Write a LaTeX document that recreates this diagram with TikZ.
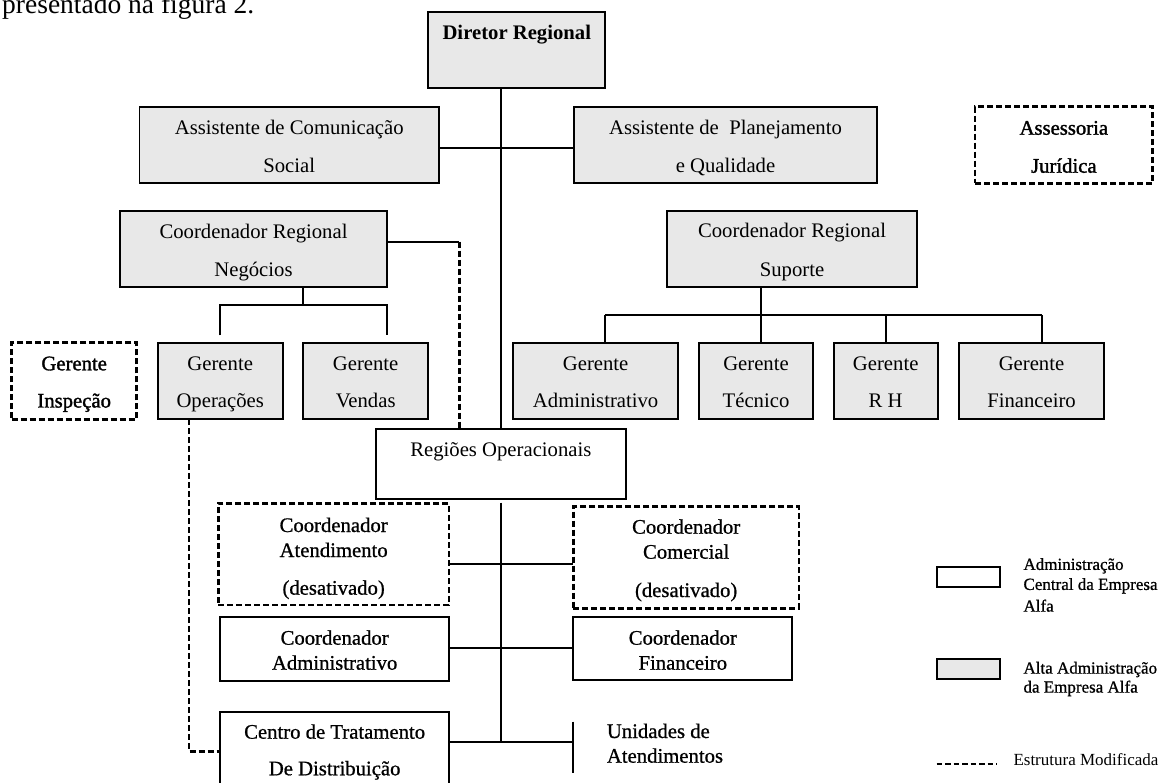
\documentclass[tikz,border=0pt]{standalone}
\usepackage{fontspec}
\setmainfont{Liberation Serif}
\newfontfamily\fbA[FakeBold=1.5]{Liberation Serif}
\newfontfamily\fbB[FakeBold=0.8]{Liberation Serif}
\definecolor{boxgray}{RGB}{232,232,232}
\begin{document}
\begin{tikzpicture}[x=1pt,y=-1pt,
  box/.style={draw=black, line width=1.9pt, inner sep=0pt, outer sep=0pt, rectangle},
  gbox/.style={box, fill=boxgray},
  wbox/.style={box, fill=white},
  dbox/.style={draw=black, line width=2.5pt, dash pattern=on 6pt off 3pt, fill=white, inner sep=0pt, outer sep=0pt, rectangle},
  conn/.style={line width=1.9pt},
  dconn/.style={line width=2.5pt, dash pattern=on 6pt off 3pt},
  t/.style={font=\fontsize{20.7}{24}\selectfont, inner sep=0pt, anchor=base},
  tb/.style={t, font=\fontsize{20.7}{24}\selectfont\bfseries},
  ta/.style={t, font=\fontsize{20.7}{24}\selectfont\fbA},
  tl/.style={t, font=\fontsize{20.7}{24}\selectfont\fbB},
  tlw/.style={tl, anchor=base west},
  lg/.style={font=\fontsize{17}{20}\selectfont\fbB, inner sep=0pt, anchor=base west},
  lgn/.style={font=\fontsize{17}{20}\selectfont, inner sep=0pt, anchor=base west}
]
\useasboundingbox (0,0) rectangle (1162,783);
\fill[white] (0,0) rectangle (1162,783);
\clip (0,0) rectangle (1162,783);

% top text fragment
\node[font=\fontsize{27.5}{32}\selectfont, inner sep=0pt, anchor=base west] (pre) at (2,13.3) {presentado na figura 2.};

% boxes
\node[gbox, minimum width=177pt, minimum height=76.6pt] (dir) at (516.8,50) {};
\node[gbox, minimum width=299.5pt, minimum height=76.6pt] (com) at (289.25,145) {};
\node[gbox, minimum width=303.6pt, minimum height=76.6pt] (pla) at (725.5,145) {};
\node[dbox, minimum width=177.7pt, minimum height=76.6pt] (ass) at (1063.85,145) {};
\node[gbox, minimum width=267pt, minimum height=76.3pt] (neg) at (253.5,249.15) {};
\node[gbox, minimum width=249.4pt, minimum height=76.3pt] (sup) at (792,249.15) {};
\node[dbox, minimum width=125pt, minimum height=76.6pt] (ins) at (74.2,381) {};
\node[gbox, minimum width=125pt, minimum height=76.6pt] (ope) at (220.2,381) {};
\node[gbox, minimum width=125.3pt, minimum height=76.6pt] (ven) at (365.65,381) {};
\node[gbox, minimum width=164.7pt, minimum height=76.6pt] (adm) at (595.65,381) {};
\node[gbox, minimum width=114.6pt, minimum height=76.6pt] (tec) at (756,381) {};
\node[gbox, minimum width=104pt, minimum height=76.6pt] (rh) at (885.7,381) {};
\node[gbox, minimum width=145.6pt, minimum height=76.6pt] (fin) at (1031.5,381) {};
\node[wbox, minimum width=249.7pt, minimum height=70pt] (reg) at (500.85,463.7) {};
\node[dbox, minimum width=230.7pt, minimum height=101.7pt] (ate) at (333.65,554.15) {};
\node[dbox, minimum width=225.7pt, minimum height=101.6pt] (come) at (686.15,557.5) {};
\node[wbox, minimum width=229.3pt, minimum height=63.7pt] (cad) at (334.65,649.15) {};
\node[wbox, minimum width=219pt, minimum height=62.7pt] (cfi) at (682.8,648.65) {};
\node[wbox, minimum width=229.3pt, minimum height=83.3pt] (ctd) at (334.65,753.35) {};

% connector junctions
\coordinate (cj) at (501,148.3);
\coordinate (nj) at (459.3,241.7);
\coordinate (nd) at (303.3,305);
\coordinate (nbL) at (220.2,305);
\coordinate (nbR) at (386.7,305);
\coordinate (nbLe) at (220.2,335.3);
\coordinate (nbRe) at (386.7,335.3);
\coordinate (sb) at (760.7,315.3);
\coordinate (sbL) at (605.3,315.3);
\coordinate (sbR) at (1041.7,315.3);
\coordinate (rt) at (501,502.7);
\coordinate (rb) at (501,741.7);
\coordinate (h1) at (501,564.3);
\coordinate (h2) at (501,648.3);
\coordinate (ubT) at (573.3,721.7);
\coordinate (ubB) at (573.3,773.3);
\coordinate (oc) at (189,751.7);

% connectors
\draw[conn] (dir.south -| reg.north) -- (reg.north);
\draw[conn] (com.east |- cj) -- (pla.west |- cj);
\draw[conn] (neg.east |- nj) -- (nj);
\draw[dconn] (nj) -- (nj |- reg.north);
\draw[conn] (neg.south -| nd) -- (nd);
\draw[conn] (nbLe) -- (nbL) -- (nbR) -- (nbRe);
\draw[conn] (sup.south -| sb) -- (tec.north -| sb);
\draw[conn] (sbL) -- (sbR);
\draw[conn] (sbL) -- (adm.north -| sbL);
\draw[conn] (rh.north |- sbL) -- (rh.north);
\draw[conn] (sbR) -- (fin.north -| sbR);
\draw[conn] (rt) -- (rb);
\draw[conn] (ate.east |- h1) -- (come.west |- h1);
\draw[conn] (cad.east |- h2) -- (cfi.west |- h2);
\draw[conn] (ctd.east |- rb) -- (ubT |- rb);
\draw[conn] (ubT) -- (ubB);
\draw[dconn] (ope.south -| oc) -- (oc) -- (ctd.west |- oc);

% texts
\node[tb] (dirT) at (516.8,39.3) {Diretor Regional};
\node[t] (comT1) at (289.25,134.7) {Assistente de Comunicação};
\node[t] (comT2) at (289.25,172.5) {Social};
\node[t] (plaT1) at (725.5,134.7) {Assistente de~ Planejamento};
\node[t] (plaT2) at (725.5,172.5) {e Qualidade};
\node[ta] (assT1) at (1063.85,134.7) {Assessoria};
\node[ta] (assT2) at (1063.85,172.7) {Jurídica};
\node[t] (negT1) at (253.5,238.7) {Coordenador Regional};
\node[t] (negT2) at (253.5,276.3) {Negócios};
\node[t] (supT1) at (792,238) {Coordenador Regional};
\node[t] (supT2) at (792,276.3) {Suporte};
\node[ta] (insT1) at (74.2,370.3) {Gerente};
\node[ta] (insT2) at (74.2,407.5) {Inspeção};
\node[t] (opeT1) at (220.2,370.3) {Gerente};
\node[t] (opeT2) at (220.2,407.5) {Operações};
\node[t] (venT1) at (365.65,370.3) {Gerente};
\node[t] (venT2) at (365.65,407.5) {Vendas};
\node[t] (admT1) at (595.65,370.3) {Gerente};
\node[t] (admT2) at (595.65,407.5) {Administrativo};
\node[t] (tecT1) at (756,370.3) {Gerente};
\node[t] (tecT2) at (756,407.5) {Técnico};
\node[t] (rhT1) at (885.7,370.3) {Gerente};
\node[t] (rhT2) at (885.7,407.5) {R H};
\node[t] (finT1) at (1031.5,370.3) {Gerente};
\node[t] (finT2) at (1031.5,407.5) {Financeiro};
\node[t] (regT) at (500.85,456.3) {Regiões Operacionais};
\node[tl] (ateT1) at (333.65,532) {Coordenador};
\node[tl] (ateT2) at (333.65,557) {Atendimento};
\node[tl] (ateT3) at (333.65,594.7) {(desativado)};
\node[tl] (comeT1) at (686.15,533.7) {Coordenador};
\node[tl] (comeT2) at (686.15,558.7) {Comercial};
\node[tl] (comeT3) at (686.15,597) {(desativado)};
\node[tl] (cadT1) at (334.65,644.7) {Coordenador};
\node[tl] (cadT2) at (334.65,669.7) {Administrativo};
\node[tl] (cfiT1) at (682.8,644.7) {Coordenador};
\node[tl] (cfiT2) at (682.8,669.7) {Financeiro};
\node[tl] (ctdT1) at (334.65,738.7) {Centro de Tratamento};
\node[tl] (ctdT2) at (334.65,775.3) {De Distribuição};
\node[tlw] (uniT1) at (606.7,738) {Unidades de};
\node[tlw] (uniT2) at (606.7,762.7) {Atendimentos};

% legend
\node[box, fill=white, minimum width=63.3pt, minimum height=20.6pt] (lgW) at (968.35,577) {};
\node[gbox, minimum width=63.3pt, minimum height=20.3pt] (lgG) at (968.35,669.15) {};
\coordinate (lgDa) at (936.7,764);
\coordinate (lgDb) at (996.7,764);
\draw[line width=2.6pt, dash pattern=on 5.5pt off 3pt] (lgDa) -- (lgDb);
\node[lg] (lgW1) at (1023.3,569.9) {Administração};
\node[lg] (lgW2) at (1023.3,589.9) {Central da Empresa};
\node[lg] (lgW3) at (1023.3,611.6) {Alfa};
\node[lg] (lgG1) at (1023.3,673.6) {Alta Administração};
\node[lg] (lgG2) at (1023.3,692.6) {da Empresa Alfa};
\node[lgn] (lgD1) at (1013.3,765.3) {Estrutura Modificada};
\end{tikzpicture}
\end{document}
